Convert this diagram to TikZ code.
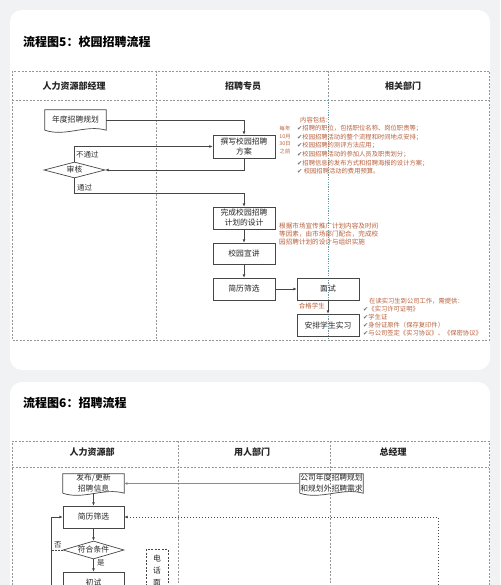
\documentclass[tikz,border=0pt]{standalone}
\usepackage{fontspec}
\setmainfont{Noto Sans CJK SC}
\newfontfamily\dejavu{DejaVu Sans}
\usetikzlibrary{arrows.meta,shapes.geometric,calc}
\definecolor{bgc}{RGB}{240,242,243}
\definecolor{noteor}{RGB}{184,96,60}
\definecolor{ln}{RGB}{70,70,70}
\definecolor{tbl}{RGB}{150,150,150}
\definecolor{tealdiv}{RGB}{110,150,160}
\newcommand{\chk}{{\dejavu\color{black!55}✔}}
\newcommand{\docpath}[1]{\draw[draw=ln,line width=0.7pt] (#1.south west) -- (#1.north west) -- (#1.north east) -- (#1.south east) .. controls ($(#1.south east)!0.33!(#1.south west)+(0,6pt)$) and ($(#1.south east)!0.67!(#1.south west)+(0,-7pt)$) .. (#1.south west);}
\tikzset{
 box/.style={draw=ln, line width=0.7pt, rectangle, minimum width=62pt, minimum height=22pt, inner sep=1pt, align=center, font=\fontsize{7.8}{10}\selectfont, text=black!85},
 docbox/.style={rectangle, minimum width=61pt, minimum height=19pt, inner sep=0pt, align=center, font=\fontsize{7.8}{11}\selectfont, text=black!85},
 dia/.style={diamond, draw=ln, line width=0.7pt, aspect=3.8, inner sep=0pt, minimum width=61pt, minimum height=16pt, font=\fontsize{7.8}{9}\selectfont, text=black!85},
 arr/.style={draw=ln, line width=0.6pt, -{Latex[length=3.2pt,width=2.8pt]}},
 conn/.style={draw=ln, line width=0.6pt},
 tline/.style={draw=tbl, dash pattern=on 2pt off 1.5pt, line width=0.6pt},
 note/.style={text=noteor, align=left, inner sep=0pt, anchor=north west, font=\fontsize{6.3}{8.6}\selectfont},
 hdr/.style={font=\fontsize{9}{10}\selectfont\bfseries, text=black!85},
 ttl/.style={font=\fontsize{12}{14}\selectfont\bfseries, anchor=west, inner sep=0pt},
 lab/.style={font=\fontsize{7.5}{9}\selectfont, inner sep=0pt, text=black!80},
}
\begin{document}
\begin{tikzpicture}[x=1pt,y=1pt]
\useasboundingbox (0,0) rectangle (500,-585);
\clip (0,0) rectangle (500,-585);
\fill[bgc] (0,0) rectangle (500,-585);
\fill[white, rounded corners=12pt] (10,-10) rectangle (490,-370);
\fill[white, rounded corners=12pt] (10,-382) rectangle (490,-640);

% ---------- Chart 5 ----------
\node[ttl] (t1) at (23,-42) {流程图5：校园招聘流程};
\draw[tline] (12,-71) rectangle (489,-340);
\draw[tline] (12,-100) -- (489,-100);
\draw[tline] (156,-71) -- (156,-340);
\draw[tline] (328,-71) -- (328,-100);
\draw[draw=tealdiv, dash pattern=on 1.2pt off 1.2pt, line width=0.6pt] (328,-100) -- (328,-340);
\node[hdr] (h1) at (74,-86) {人力资源部经理};
\node[hdr] (h2) at (243,-86) {招聘专员};
\node[hdr] (h3) at (403,-86) {相关部门};

\node[docbox, minimum height=20pt] (plan) at (75.5,-120) {年度招聘规划};
\docpath{plan}
\node[box, minimum height=23pt] (fa) at (244,-146.5) {撰写校园招聘\\方案};
\node[dia] (sh) at (74.5,-170) {审核};
\node[box] (jh) at (244,-218) {完成校园招聘\\计划的设计};
\node[box, minimum height=21pt] (xj) at (244,-253.5) {校园宣讲};
\node[box] (jl) at (244,-289) {简历筛选};
\node[box] (ms) at (328,-289) {面试};
\node[box] (ap) at (328,-325) {安排学生实习};
\coordinate (c1) at (244,-193);

\draw[arr] (plan.east) -| (fa.north);
\draw[arr] (sh.north) |- (fa.west);
\draw[arr] (fa.south) |- (sh.east);
\draw[arr] (sh.south) |- (c1) -- (jh.north);
\draw[arr] (jh) -- (xj);
\draw[arr] (xj) -- (jl);
\draw[arr] (jl) -- (ms);
\draw[arr] (ms) -- (ap);
\node[lab, anchor=west] (l1) at (76,-155) {不通过};
\node[lab, anchor=west] (l2) at (77,-188) {通过};
\node[lab, anchor=east, text=noteor, font=\fontsize{6.5}{8}\selectfont] (l3) at (325,-306) {合格学生};

\node[text=noteor, align=center, inner sep=0pt, font=\fontsize{5.3}{7.4}\selectfont] (n1) at (285,-140) {每年\\10月\\30日\\之前};
\node[note] (n2) at (297,-116.5) {\hspace{3pt}内容包括：\\
\chk 招聘的职位，包括职位名称、岗位职责等；\\
\chk 校园招聘活动的整个流程和时间地点安排；\\
\chk 校园招聘的测评方法应用；\\
\chk 校园招聘活动的参加人员及职责划分；\\
\chk 招聘信息的发布方式和招聘海报的设计方案；\\
\chk\ 校园招聘活动的费用预算。};
\node[note, font=\fontsize{6.6}{8}\selectfont] (n3) at (279,-222.5) {根据市场宣传推广计划内容及时间\\等因素，由市场部门配合，完成校\\园招聘计划的设计与组织实施};
\node[note, font=\fontsize{6.3}{8}\selectfont] (n4) at (363,-297.5) {\hspace{6pt}在读实习生到公司工作，需提供：\\
\chk《实习许可证明》\\
\chk 学生证\\
\chk 身份证原件（保存复印件）\\
\chk 与公司签定《实习协议》、《保密协议》};

% ---------- Chart 6 ----------
\node[ttl] (t2) at (23,-403) {流程图6：招聘流程};
\draw[tline] (12,-620) -- (12,-441) -- (489,-441) -- (489,-620);
\draw[tline] (12,-467) -- (489,-467);
\draw[tline] (178,-441) -- (178,-620);
\draw[tline] (330,-441) -- (330,-620);
\node[hdr] (g1) at (92,-452) {人力资源部};
\node[hdr] (g2) at (252,-452) {用人部门};
\node[hdr] (g3) at (393,-452) {总经理};

\node[docbox] (fb) at (93.5,-483.5) {发布/更新\\招聘信息};
\docpath{fb}
\node[docbox, minimum width=63pt] (gs) at (331.5,-483.5) {公司年度招聘规划\\和规划外招聘需求};
\docpath{gs}
\node[box, minimum width=61pt] (jl2) at (93.5,-517) {简历筛选};
\node[dia, minimum height=18pt, aspect=3.4] (fh) at (93.5,-550) {符合条件};
\node[box, minimum width=61pt] (cs) at (93.5,-583) {初试};
\node[draw=ln, dash pattern=on 2pt off 1.5pt, line width=0.8pt, anchor=north, minimum width=22pt, minimum height=70pt, inner xsep=0pt, inner ysep=6pt, align=center, text=black!85, font=\fontsize{7.8}{12}\selectfont, text depth=52pt] (dh) at (157,-549) {电\\话\\面\\试};
\coordinate (d1) at (438,-600);
\coordinate (d2) at (51,-600);

\draw[draw=black!45, line width=1.3pt, -{Latex[length=3.2pt,width=3pt]}] (gs.west) -- (fb.east);
\draw[arr] (fb.south) -- (jl2.north);
\draw[arr, dash pattern=on 1.5pt off 1.5pt] (d1) |- (jl2.east);
\draw[arr] (jl2.south) -- (fh.north);
\draw[arr] (d2) |- (jl2.west);
\draw[conn, dash pattern=on 1.5pt off 1.5pt] (fh.west) -- (fh.west -| d2);
\draw[arr] (fh.south) -- (cs.north);
\node[lab, anchor=west] (m1) at (54,-545) {否};
\node[lab, anchor=west] (m2) at (97,-563) {是};
\end{tikzpicture}
\end{document}
